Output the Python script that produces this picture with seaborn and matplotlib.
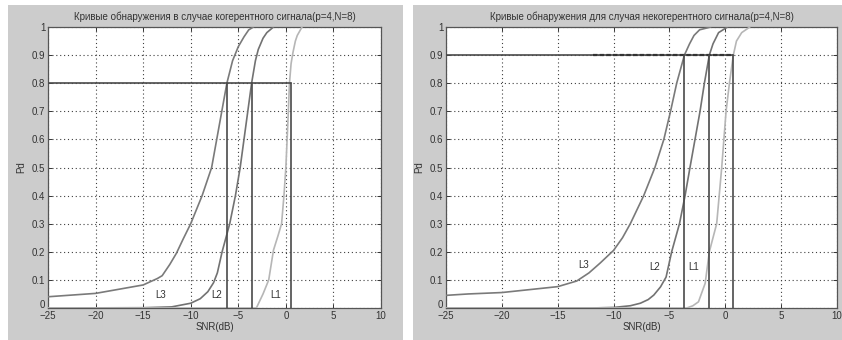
import numpy as np
import pandas as pd
import matplotlib
matplotlib.use("Agg")
import matplotlib.pyplot as plt
import matplotlib.transforms as mtransforms
from matplotlib.patches import Rectangle
import seaborn as sns

# ---- coherent signal: detection curves ----
coh_l3_snr = [-25, -20, -15, -13.5, -13, -12.2, -11.5, -10.8, -10, -8.8, -7.8, -7.0, -6.2, -5.6, -5.0, -4.4, -3.9, -3.4]
coh_l3_pd = [0.040, 0.052, 0.082, 0.105, 0.115, 0.155, 0.195, 0.245, 0.30, 0.40, 0.50, 0.65, 0.80, 0.88, 0.93, 0.965, 0.99, 1.0]
coh_l2_snr = [-25, -15, -12, -10, -9, -8.2, -7.6, -7.2, -6.7, -5.9, -5.3, -4.8, -4.2, -3.6, -3.2, -2.9, -2.4, -2.0, -1.3]
coh_l2_pd = [0.0, 0.001, 0.004, 0.017, 0.033, 0.058, 0.09, 0.125, 0.20, 0.30, 0.40, 0.50, 0.65, 0.80, 0.88, 0.92, 0.96, 0.98, 1.0]
coh_l1_snr = [-25, -3.1, -2.4, -1.8, -1.3, -0.8, -0.45, -0.2, 0.0, 0.2, 0.38, 0.55, 0.75, 1.0, 1.2, 1.7]
coh_l1_pd = [0.0, 0.0, 0.05, 0.10, 0.206, 0.26, 0.30, 0.40, 0.50, 0.65, 0.80, 0.87, 0.91, 0.95, 0.97, 1.0]
coh_pd_level = 0.8
coh_snr_marks = [-6.2, -3.58, 0.52]

# ---- noncoherent signal: detection curves ----
nc_l3_snr = [-25, -23, -20, -15, -13.3, -12.2, -11.2, -10, -9.2, -8.5, -7.3, -6.3, -5.5, -4.9, -4.35, -3.66, -3.2, -2.8, -2.3, -1.3]
nc_l3_pd = [0.045, 0.050, 0.055, 0.076, 0.096, 0.125, 0.16, 0.205, 0.25, 0.30, 0.40, 0.50, 0.60, 0.70, 0.80, 0.90, 0.94, 0.97, 0.99, 1.0]
nc_l2_snr = [-25, -12, -10, -8.5, -7.6, -6.9, -6.4, -5.8, -5.3, -4.8, -4.1, -3.6, -3.16, -2.71, -2.26, -1.87, -1.43, -1.1, -0.6, 0.2]
nc_l2_pd = [0.0, 0.0, 0.002, 0.008, 0.017, 0.03, 0.046, 0.075, 0.11, 0.20, 0.30, 0.40, 0.50, 0.60, 0.70, 0.80, 0.90, 0.94, 0.98, 1.0]
nc_l1_snr = [-25, -3.45, -2.9, -2.4, -1.8, -1.43, -0.77, -0.32, 0.07, 0.37, 0.72, 1.0, 1.47, 2.2]
nc_l1_pd = [0.0, 0.0, 0.008, 0.022, 0.088, 0.20, 0.30, 0.50, 0.70, 0.80, 0.90, 0.95, 0.98, 1.0]
nc_pd_level = 0.9
nc_snr_marks = [-3.66, -1.43, 0.72]

titles = ["Кривые обнаружения в случае когерентного сигнала(p=4,N=8)",
          "Кривые обнаружения для случая некогерентного сигнала(p=4,N=8)"]
curve_names = ["L3", "L2", "L1"]
x_ticks = [-25, -20, -15, -10, -5, 0, 5, 10]
y_ticks = [0, 0.1, 0.2, 0.3, 0.4, 0.5, 0.6, 0.7, 0.8, 0.9, 1]
y_tick_labels = ["0", "0.1", "0.2", "0.3", "0.4", "0.5", "0.6", "0.7", "0.8", "0.9", "1"]

coh_label_pos = [(-13.2, 0.046), (-7.3, 0.046), (-1.1, 0.046)]
nc_label_pos = [(-12.7, 0.153), (-6.3, 0.147), (-2.86, 0.147)]

sns.set_style("white")
plt.rcParams["font.family"] = ["Liberation Sans", "DejaVu Sans"]

fig = plt.figure(figsize=(8.42, 3.4), dpi=100, facecolor="white")
# grey window backgrounds, kept behind both axes
for x0, w in [(8, 395), (413, 429)]:
    fig.add_artist(Rectangle((x0 / 842, 0), w / 842, 335 / 340, transform=fig.transFigure,
                             facecolor="#cccccc", edgecolor="none", zorder=-10))

ax_bottom = (340 - 308) / 340
ax_height = (308 - 27) / 340
ax1 = fig.add_axes([48 / 842, ax_bottom, (381 - 48) / 842, ax_height], zorder=1)
ax2 = fig.add_axes([446 / 842, ax_bottom, (837 - 446) / 842, ax_height], zorder=1)

curve_colors = ["#7a7a7a", "#727272", "#b6b6b6"]
line_dark = "#4a4a4a"


def draw_panel(ax, title, curves, pd_level, marks, label_pos, dashed_from=None):
    ax.set_facecolor("white")
    for (snr, pd_vals), color, name in zip(curves, curve_colors, curve_names):
        df = pd.DataFrame({"SNR": snr, "Pd": pd_vals})
        sns.lineplot(data=df, x="SNR", y="Pd", ax=ax, color=color, lw=1.2,
                     sort=False, estimator=None, legend=False, zorder=3)
    # required-Pd level and the SNR each curve needs to reach it
    ax.plot([-25, marks[-1]], [pd_level, pd_level], color=line_dark, lw=1.2, zorder=4)
    if dashed_from is not None:
        ax.plot([dashed_from, marks[-1]], [pd_level, pd_level], color="#333333", lw=1.6,
                ls=(0, (2, 1)), zorder=4)
    for m in marks:
        ax.plot([m, m], [0, pd_level], color=line_dark, lw=1.2, zorder=4)
    for name, (lx, ly) in zip(curve_names, label_pos):
        ax.text(lx, ly, name, fontsize=7, color="#333333", ha="center", va="center", zorder=5)

    ax.set_xlim(-25, 10)
    ax.set_ylim(0, 1)
    ax.set_xticks(x_ticks)
    ax.set_yticks(y_ticks)
    ax.set_yticklabels(y_tick_labels)
    ax.grid(True, color="#404040", lw=0.8, ls=(0, (1, 2.5)))
    ax.set_axisbelow(True)
    ax.tick_params(direction="in", length=3, width=0.7, labelsize=7, colors="#333333", pad=2,
                   top=True, right=True, bottom=True, left=True)
    for sp in ax.spines.values():
        sp.set_visible(True)
        sp.set_color("#555555")
        sp.set_linewidth(0.9)
    ax.set_title(title, fontsize=7, color="#333333", pad=5)
    ax.set_xlabel("SNR(dB)", fontsize=7, color="#333333", labelpad=1)
    ax.set_ylabel("Pd", fontsize=7, color="#333333", labelpad=4)
    # lift the "0" label a little so it clears the first x label
    lbl = ax.get_yticklabels()[0]
    lbl.set_transform(lbl.get_transform() +
                      mtransforms.ScaledTranslation(0, 3 / 72, fig.dpi_scale_trans))


draw_panel(ax1, titles[0],
           [(coh_l3_snr, coh_l3_pd), (coh_l2_snr, coh_l2_pd), (coh_l1_snr, coh_l1_pd)],
           coh_pd_level, coh_snr_marks, coh_label_pos)
draw_panel(ax2, titles[1],
           [(nc_l3_snr, nc_l3_pd), (nc_l2_snr, nc_l2_pd), (nc_l1_snr, nc_l1_pd)],
           nc_pd_level, nc_snr_marks, nc_label_pos, dashed_from=-11.8)

fig.savefig("out.png", dpi=100, facecolor="white")
